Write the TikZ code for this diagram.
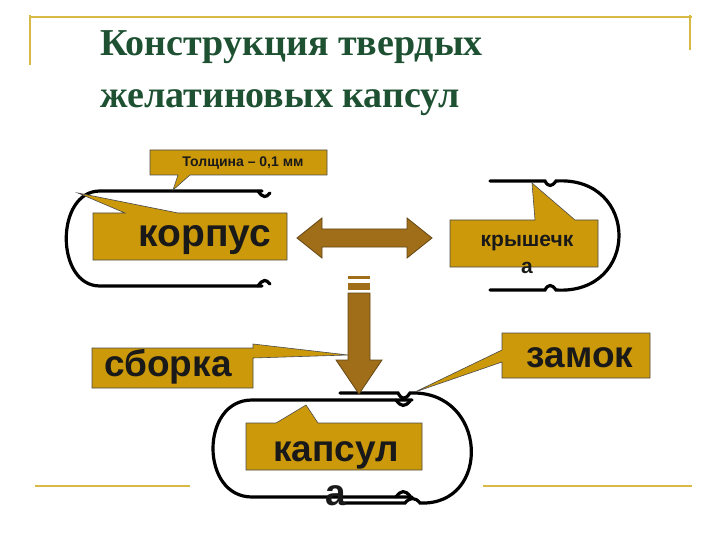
\documentclass[tikz,border=0pt]{standalone}
\usepackage{fontspec}
\setmainfont{Liberation Serif}
\newfontfamily\arial{Liberation Sans}
\begin{document}
\begin{tikzpicture}[x=1pt,y=-1pt,
  callout/.style={fill=gold,draw=black!70,line width=0.6pt},
  lbl/.style={text=black!90,inner sep=0pt},
  capline/.style={line width=3.2pt,line cap=round},
  arr/.style={fill=brn,draw=brd,line width=0.8pt},
  deco/.style={draw=yel,line width=1.4pt}]
\definecolor{gold}{RGB}{204,153,10}
\definecolor{brn}{RGB}{160,110,25}
\definecolor{brd}{RGB}{100,70,20}
\definecolor{yel}{RGB}{215,185,70}
\definecolor{ttl}{RGB}{30,80,50}
\useasboundingbox (0,0) rectangle (720,540);
% decorative lines
\draw[deco] (30,15) -- (30,65);
\draw[deco] (30,17) -- (692,17);
\draw[deco] (690,15) -- (690,50);
\draw[deco] (35,486) -- (190,486);
\draw[deco] (483,486) -- (692,486);
% title
\node[anchor=north west,align=left,font=\bfseries\fontsize{38}{52}\selectfont,text=ttl,inner sep=0pt] (title) at (100,30) {Конструкция твердых\\желатиновых капсул};
% korpus capsule
\draw[capline] (262,191) -- (100,191) .. controls (55,191) and (55,286) .. (100,286) -- (262,286);
\draw[capline] (258,191) .. controls (263,198) and (266,198) .. (270,193);
\draw[capline] (258,286) .. controls (263,279) and (266,279) .. (270,284);
% cap (kryshechka) capsule
\draw[capline] (490,181) -- (545,181) .. controls (548,187) and (552,187) .. (556,181) .. controls (640,176) and (640,295) .. (556,290) .. controls (552,284) and (548,284) .. (545,290) -- (490,290);
% capsula assembled
\draw[capline] (340,393) -- (398,393) .. controls (402,400) and (405,400) .. (410,393) .. controls (488,390) and (492,506) .. (420,503) .. controls (415,497) and (410,497) .. (405,503) -- (340,503);
\draw[capline] (412,400) -- (252,400) .. controls (200,400) and (200,497) .. (252,497) -- (412,497);
\draw[capline] (396,400) .. controls (401,407) and (405,407) .. (410,401);
\draw[capline] (396,497) .. controls (401,490) and (405,490) .. (410,496);
% double arrow
\draw[arr] (297,238) -- (322,218) -- (322,229) -- (407,229) -- (407,218) -- (432,238) -- (407,258) -- (407,247) -- (322,247) -- (322,258) -- cycle;
% down arrow
\fill[brn] (348,276) rectangle (370,279);
\fill[brn] (348,283) rectangle (370,290);
\draw[arr] (348,293) -- (370,293) -- (370,360) -- (382,360) -- (359,394) -- (336,360) -- (348,360) -- cycle;
% callouts
\draw[callout] (150,150) -- (327,150) -- (327,175) -- (190,175) -- (173,190) -- (178,175) -- (150,175) -- cycle;
\node[lbl,font=\arial\bfseries\fontsize{14}{16}\selectfont] (tol) at (243,163) {Толщина – 0,1 мм};
\draw[callout] (93,213) -- (125,213) -- (78,193) -- (178,213) -- (287,213) -- (287,260) -- (93,260) -- cycle;
\node[lbl,font=\arial\bfseries\fontsize{39}{40}\selectfont] (korpus) at (205,240) {корпус};
\draw[callout] (450,220) -- (535,220) -- (532,183) -- (575,220) -- (598,220) -- (598,267) -- (450,267) -- cycle;
\node[lbl,align=center,font=\arial\bfseries\fontsize{21}{27}\selectfont] (kr) at (527,254) {крышечк\\а};
\draw[callout] (92,348) -- (253,348) -- (253,344) -- (348,355) -- (253,358) -- (253,388) -- (92,388) -- cycle;
\node[lbl,font=\arial\bfseries\fontsize{37}{40}\selectfont] (sb) at (168,367) {сборка};
\draw[callout] (502,333) -- (650,333) -- (650,378) -- (502,378) -- (502,362) -- (415,392) -- (502,350) -- cycle;
\node[lbl,font=\arial\bfseries\fontsize{37}{40}\selectfont] (zm) at (580,358) {замок};
\draw[callout] (246,423) -- (276,423) -- (306,405) -- (318,423) -- (422,423) -- (422,470) -- (246,470) -- cycle;
\node[lbl,align=center,font=\arial\bfseries\fontsize{37}{44}\selectfont] (kp) at (336,474) {капсул\\а};
\end{tikzpicture}
\end{document}
